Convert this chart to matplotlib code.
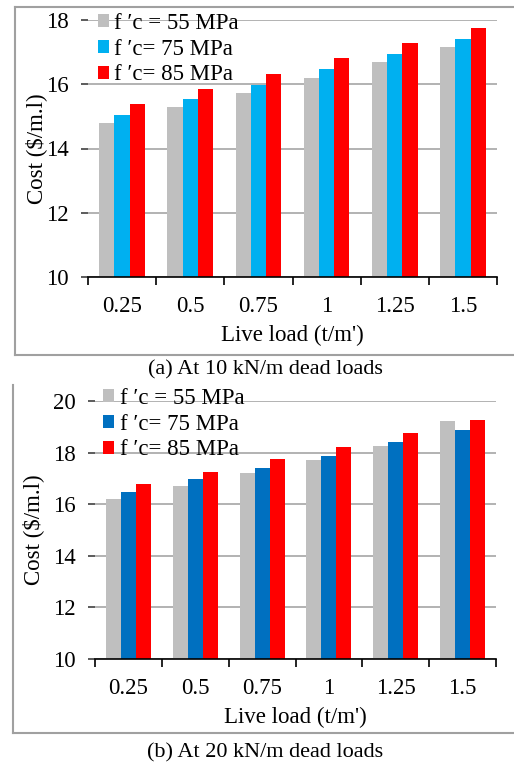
import numpy as np
import matplotlib.pyplot as plt
from matplotlib.lines import Line2D

plt.rcParams['font.family'] = ['Liberation Serif', 'DejaVu Serif']

live_loads = ['0.25', '0.5', '0.75', '1', '1.25', '1.5']
series_labels = ['f \u2032c = 55 MPa', 'f \u2032c= 75 MPa', 'f \u2032c= 85 MPa']

# (a) 10 kN/m dead load
cost_10_55 = [14.79, 15.28, 15.74, 16.21, 16.70, 17.16]
cost_10_75 = [15.04, 15.53, 15.99, 16.46, 16.95, 17.41]
cost_10_85 = [15.39, 15.85, 16.31, 16.81, 17.27, 17.76]

# (b) 20 kN/m dead load
cost_20_55 = [16.21, 16.70, 17.21, 17.70, 18.27, 19.21]
cost_20_75 = [16.46, 16.97, 17.39, 17.87, 18.41, 18.89]
cost_20_85 = [16.77, 17.26, 17.74, 18.23, 18.77, 19.25]

W, H = 514, 766
FS = 16.5
fig = plt.figure(figsize=(W / 100, H / 100), dpi=100)


def fx(px):
    return px / W


def fy(py):
    return 1 - py / H


def draw_panel(ax, series, colors, ymax, legend_xy, ylabelpad):
    x = np.arange(len(live_loads))
    bw = 0.224
    for i, (vals, col, lab) in enumerate(zip(series, colors, series_labels)):
        ax.bar(x + (i - 1) * bw, vals, width=bw, color=col, label=lab, zorder=3)
    ax.set_xlim(-0.5, len(live_loads) - 0.5)
    ax.set_ylim(10, ymax)
    ax.set_yticks(np.arange(10, ymax + 1, 2))
    ax.yaxis.grid(True, color='#a6a6a6', linewidth=1.2, zorder=0)
    ax.set_axisbelow(True)
    for s in ['top', 'right', 'left']:
        ax.spines[s].set_visible(False)
    ax.spines['bottom'].set_color('black')
    ax.spines['bottom'].set_linewidth(1.2)
    ax.spines['bottom'].set_zorder(4)
    ax.set_xticks(x)
    ax.set_xticklabels(live_loads)
    ax.set_xticks(np.arange(-0.5, len(live_loads)), minor=True)
    ax.tick_params(axis='x', which='major', length=0, pad=14, labelsize=FS)
    ax.tick_params(axis='x', which='minor', length=6, width=1.2, color='black', direction='out')
    ax.tick_params(axis='y', length=5, width=1.2, color='#404040', labelsize=FS, pad=9)
    ax.set_xlabel("Live load (t/m')", fontsize=FS, labelpad=5)
    ax.set_ylabel('Cost ($/m.l)', fontsize=FS, labelpad=ylabelpad)
    ax.legend(loc='upper left', bbox_to_anchor=legend_xy, frameon=False, fontsize=FS,
              handlelength=0.5, handleheight=0.5, handletextpad=0.22,
              labelspacing=0.2, borderaxespad=0, borderpad=0)


ax1 = fig.add_axes([fx(88), fy(277), fx(497) - fx(88), fy(20) - fy(277)])
draw_panel(ax1, [cost_10_55, cost_10_75, cost_10_85],
           ['#bfbfbf', '#00b0f0', '#ff0000'], 18, (0.024, 1.027), -1)

ax2 = fig.add_axes([fx(95), fy(659), fx(496) - fx(95), fy(401) - fy(659)])
draw_panel(ax2, [cost_20_55, cost_20_75, cost_20_85],
           ['#bfbfbf', '#0070c0', '#ff0000'], 20, (0.02, 1.05), 6)

# panel frames
frame = dict(color='#a0a0a0', linewidth=1.5, transform=fig.transFigure)
fig.add_artist(Line2D([fx(15), fx(15)], [fy(7), fy(355)], **frame))
fig.add_artist(Line2D([fx(15), 1], [fy(7), fy(7)], **frame))
fig.add_artist(Line2D([fx(15), 1], [fy(355), fy(355)], **frame))
fig.add_artist(Line2D([fx(13), fx(13)], [fy(385), fy(733)], **frame))
fig.add_artist(Line2D([fx(13), 1], [fy(733), fy(733)], **frame))

fig.text(fx(265), fy(370), '(a) At 10 kN/m dead loads', ha='center', va='center', fontsize=16)
fig.text(fx(265), fy(753), '(b) At 20 kN/m dead loads', ha='center', va='center', fontsize=16)

fig.savefig('out.png', dpi=100)
